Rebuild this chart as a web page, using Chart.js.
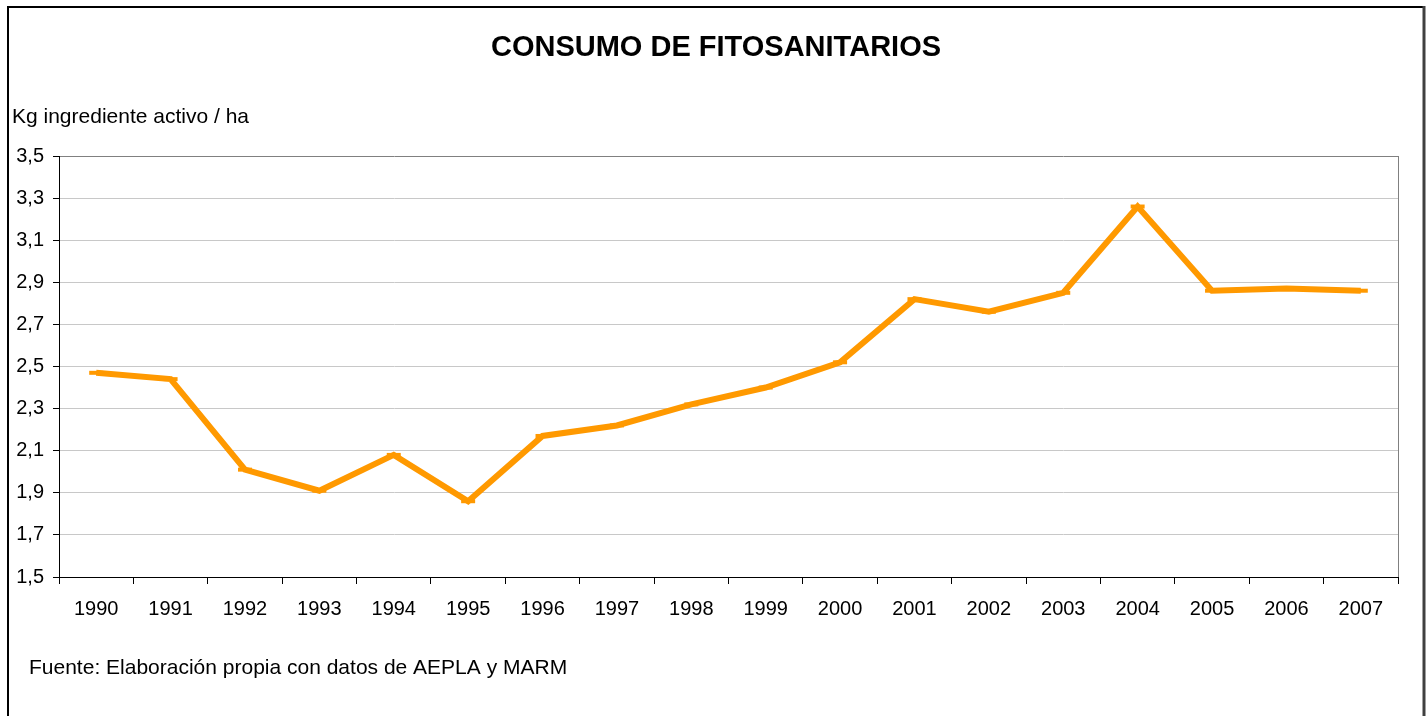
<!DOCTYPE html>
<html>
<head>
<meta charset="utf-8">
<script src="https://cdn.jsdelivr.net/npm/chart.js@4.4.0/dist/chart.umd.min.js"></script>
<style>
  html, body { margin: 0; padding: 0; background: #fff; }
  #wrap { width: 1428px; height: 716px; position: relative; }
</style>
</head>
<body>
<div id="wrap"><canvas id="chart" width="1428" height="716"></canvas></div>
<script>
// datos
const years = ['1990','1991','1992','1993','1994','1995','1996','1997','1998','1999',
               '2000','2001','2002','2003','2004','2005','2006','2007'];
const consumo = [2.47, 2.44, 2.01, 1.91, 2.08, 1.86, 2.17, 2.22, 2.32, 2.40,
                 2.52, 2.82, 2.76, 2.85, 3.26, 2.86, 2.87, 2.86];
const yMin = 1.5, yMax = 3.5, yStep = 0.2;

const FONT = '"Liberation Sans", Arial, sans-serif';

// marco, titulo y textos
const decoPlugin = {
  id: 'deco',
  afterDraw(chart) {
    const c = chart.ctx;
    const a = chart.chartArea;
    c.save();
    // marco exterior
    c.strokeStyle = '#000';
    c.lineWidth = 2;
    c.beginPath();
    c.moveTo(8, 716); c.lineTo(8, 7); c.lineTo(1424, 7);
    c.stroke();
    c.strokeStyle = '#404040';
    c.lineWidth = 3;
    c.beginPath();
    c.moveTo(1424, 6); c.lineTo(1424, 716);
    c.stroke();
    // borde derecho del area
    c.strokeStyle = '#808080';
    c.lineWidth = 1;
    c.beginPath();
    c.moveTo(Math.round(a.right) + 0.5, a.top); c.lineTo(Math.round(a.right) + 0.5, a.bottom);
    c.stroke();
    // textos
    c.fillStyle = '#000';
    c.textBaseline = 'middle';
    c.textAlign = 'center';
    c.font = 'bold 29px ' + FONT;
    c.fillText('CONSUMO DE FITOSANITARIOS', 716, 48);
    c.textAlign = 'left';
    c.font = '21px ' + FONT;
    c.fillText('Kg ingrediente activo / ha', 12, 117);
    c.fillText('Fuente: Elaboración propia con datos de AEPLA y MARM', 29, 668);
    c.restore();
  }
};

new Chart(document.getElementById('chart'), {
  type: 'line',
  data: {
    labels: years,
    datasets: [{
      data: consumo,
      borderColor: '#FF9900',
      backgroundColor: '#FF9900',
      borderWidth: 6,
      tension: 0,
      pointStyle: 'line',
      pointRadius: 7,
      pointBorderWidth: 4,
      pointBorderColor: '#FF9900',
      pointHoverRadius: 7
    }]
  },
  options: {
    responsive: false,
    animation: false,
    layout: { padding: { left: 0, top: 156, right: 30, bottom: 89 } },
    plugins: {
      legend: { display: false },
      tooltip: { enabled: false },
      title: { display: false }
    },
    scales: {
      x: {
        offset: true,
        afterFit(s) { s.height = 50; },
        grid: {
          offset: true,
          drawOnChartArea: false,
          drawTicks: true,
          tickLength: 7,
          tickColor: '#000'
        },
        border: { color: '#000', width: 1 },
        ticks: {
          color: '#000',
          padding: 13,
          maxRotation: 0,
          font: { family: FONT, size: 20 }
        }
      },
      y: {
        min: yMin,
        max: yMax,
        afterFit(s) { s.width = 59; },
        grid: {
          color: ctx => (ctx.tick && Math.abs(ctx.tick.value - yMax) < 1e-6) ? '#808080' : '#c8c8c8',
          lineWidth: 1,
          tickLength: 6,
          tickColor: '#000'
        },
        border: { color: '#000', width: 1 },
        ticks: {
          stepSize: yStep,
          color: '#000',
          padding: 9,
          font: { family: FONT, size: 20 },
          callback: v => v.toFixed(1).replace('.', ',')
        }
      }
    }
  },
  plugins: [decoPlugin]
});
</script>
</body>
</html>
